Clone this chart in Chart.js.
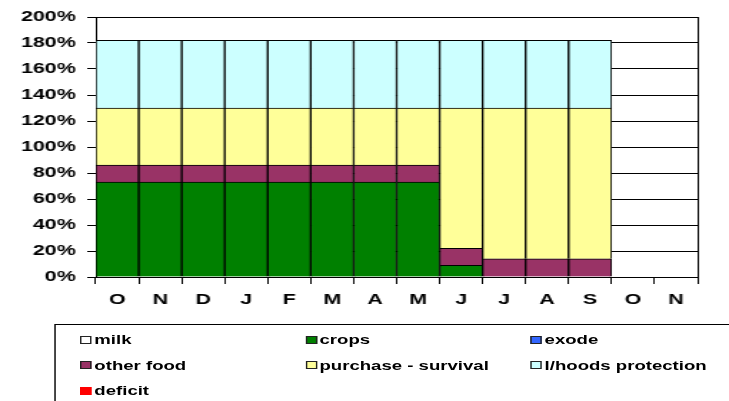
<!DOCTYPE html>
<html>
<head>
<meta charset="utf-8">
<script src="https://cdn.jsdelivr.net/npm/chart.js@4"></script>
<style>
  body { margin: 0; background: #fff; overflow: hidden; }
  #wrap { position: relative; width: 510px; height: 401px; transform: scaleX(1.4294); transform-origin: 0 0; }
  #legend { position: absolute; left: 38px; top: 324px; width: 520px; height: 100px;
    border: 1px solid #000; box-sizing: border-box; padding: 2px 0 0 17px;
    display: grid; grid-template-columns: 157.5px 157.5px 157.5px; grid-auto-rows: 25.5px;
    font: bold 13px "Liberation Sans", Arial, sans-serif; color: #000; }
  .item { display: flex; align-items: center; white-space: nowrap; }
  .box { width: 6px; height: 6px; border: 1px solid #222; margin-right: 2px; }
</style>
</head>
<body>
<div id="wrap">
  <canvas id="chart" width="510" height="330"></canvas>
  <div id="legend"></div>
</div>
<script>
const months = ["O", "N", "D", "J", "F", "M", "A", "M", "J", "J", "A", "S", "O", "N"];
const yTicks = [0, 20, 40, 60, 80, 100, 120, 140, 160, 180, 200];

const milk     = [0, 0, 0, 0, 0, 0, 0, 0, 0, 0, 0, 0, 0, 0];
const crops    = [73, 73, 73, 73, 73, 73, 73, 73, 9, 0, 0, 0, 0, 0];
const exode    = [0, 0, 0, 0, 0, 0, 0, 0, 0, 0, 0, 0, 0, 0];
const otherFood = [13, 13, 13, 13, 13, 13, 13, 13, 13, 14, 14, 14, 0, 0];
const purchase = [44, 44, 44, 44, 44, 44, 44, 44, 108, 116, 116, 116, 0, 0];
const lhoods   = [52, 52, 52, 52, 52, 52, 52, 52, 52, 52, 52, 52, 0, 0];
const deficit  = [0, 0, 0, 0, 0, 0, 0, 0, 0, 0, 0, 0, 0, 0];

const series = [
  { label: "milk", data: milk, color: "#FFFFFF" },
  { label: "crops", data: crops, color: "#008000" },
  { label: "exode", data: exode, color: "#3366FF" },
  { label: "other food", data: otherFood, color: "#993366" },
  { label: "purchase - survival", data: purchase, color: "#FFFF99" },
  { label: "l/hoods protection", data: lhoods, color: "#CCFFFF" },
  { label: "deficit", data: deficit, color: "#FF0000" }
];

const tickFont = { family: "'Liberation Sans', Arial, sans-serif", size: 15, weight: "bold" };

const ctx = document.getElementById("chart").getContext("2d");
const chart = new Chart(ctx, {
  type: "bar",
  data: {
    labels: months,
    datasets: series.map(s => ({
      label: s.label,
      data: s.data,
      backgroundColor: s.color,
      borderColor: "#000000",
      borderWidth: 1,
      barPercentage: 1,
      categoryPercentage: 1
    }))
  },
  options: {
    responsive: false,
    animation: false,
    layout: { padding: { top: 14, right: 22, left: 0, bottom: 0 } },
    plugins: { legend: { display: false }, tooltip: { enabled: false } },
    scales: {
      x: {
        stacked: true,
        grid: { drawOnChartArea: false, color: "#000", tickLength: 7, offset: true },
        border: { color: "#000", width: 1 },
        ticks: { color: "#000", font: tickFont, padding: 7, maxRotation: 0, autoSkip: false },
        afterFit: s => { s.height = 53; }
      },
      y: {
        stacked: true,
        min: 0,
        max: 200,
        afterBuildTicks: s => { s.ticks = yTicks.map(v => ({ value: v })); },
        grid: { color: "#000", lineWidth: 1, tickLength: 6 },
        border: { color: "#000", width: 1 },
        ticks: { color: "#000", font: tickFont, padding: 8, callback: v => v + "%" },
        afterFit: s => { s.width = 67; }
      },
      y2: {
        position: "right",
        min: 0,
        max: 200,
        grid: { drawOnChartArea: false, drawTicks: false },
        border: { color: "#000", width: 1 },
        ticks: { display: false },
        afterFit: s => { s.width = 0; }
      }
    }
  }
});

// legend built from the same series
const legend = document.getElementById("legend");
series.forEach(s => {
  const item = document.createElement("div");
  item.className = "item";
  const box = document.createElement("span");
  box.className = "box";
  box.style.background = s.color;
  if (s.label === "deficit") box.style.borderColor = s.color;
  item.appendChild(box);
  item.appendChild(document.createTextNode(s.label));
  legend.appendChild(item);
});
</script>
</body>
</html>
